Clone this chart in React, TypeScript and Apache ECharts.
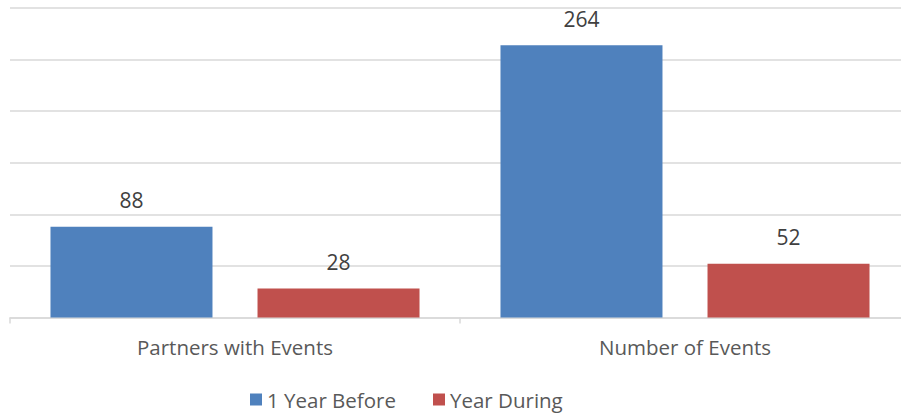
import React, { useEffect, useRef } from "react";
import * as echarts from "echarts";

const categories = ["Partners with Events", "Number of Events"];
const seriesNames = ["1 Year Before", "Year During"];
const beforeValues = [88, 264];
const duringValues = [28, 52];
const colors = ["#4F81BD", "#C0504D"];

export default function App() {
  const ref = useRef<HTMLDivElement>(null);
  useEffect(() => {
    const chart = echarts.init(ref.current!, null, { renderer: "svg" });
    const font = "Open Sans, Noto Sans, sans-serif";
    const labelStyle = { show: true, position: "top", distance: 16, fontSize: 21, color: "#404040", fontFamily: font };
    chart.setOption({
      animation: false,
      textStyle: { fontFamily: font },
      grid: { left: 10, top: 8, width: 900, height: 309.5, containLabel: false },
      legend: {
        bottom: -1,
        left: 245,
        icon: "rect",
        itemWidth: 12,
        itemHeight: 12,
        itemGap: 37,
        textStyle: { fontSize: 20.5, color: "#595959", fontFamily: font },
        data: seriesNames,
      },
      xAxis: {
        type: "category",
        data: categories,
        axisLine: { lineStyle: { color: "#D9D9D9", width: 1.5 } },
        axisTick: { show: true, length: 6, lineStyle: { color: "#D9D9D9", width: 1.5 } },
        axisLabel: { fontSize: 20.5, color: "#595959", margin: 19, fontFamily: font },
      },
      yAxis: {
        type: "value",
        min: 0,
        max: 300,
        interval: 50,
        axisLabel: { show: false },
        axisLine: { show: false },
        axisTick: { show: false },
        splitLine: { lineStyle: { color: "#D9D9D9", width: 1.5 } },
      },
      series: [
        {
          name: seriesNames[0],
          type: "bar",
          data: beforeValues,
          barWidth: 162,
          barGap: "27.8%",
          itemStyle: { color: colors[0] },
          label: labelStyle,
        },
        {
          name: seriesNames[1],
          type: "bar",
          data: duringValues,
          barWidth: 162,
          barGap: "27.8%",
          itemStyle: { color: colors[1] },
          label: labelStyle,
        },
      ],
    });
    return () => chart.dispose();
  }, []);
  return (
    <div style={{ position: "absolute", left: 0, top: 0, width: 901, height: 414, overflow: "hidden", background: "#fff" }}>
      <div ref={ref} style={{ width: 920, height: 414 }} />
    </div>
  );
}
